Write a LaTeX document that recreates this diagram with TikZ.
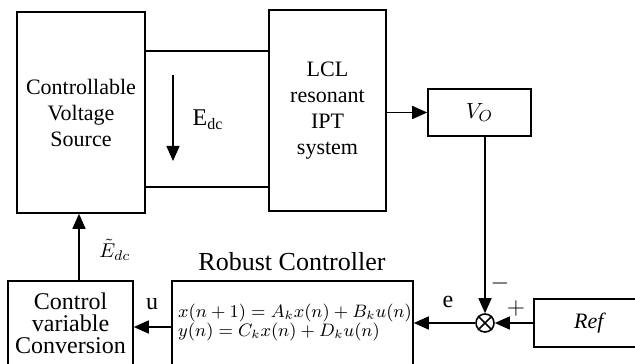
\documentclass[tikz,border=0pt]{standalone}
\usepackage{fontspec}
\setmainfont{Liberation Serif}
\usepackage{amsmath}
\usepackage{tikz}
\usetikzlibrary{arrows.meta, positioning, calc}
\tikzset{
  block/.style={rectangle, draw=black, line width=0.8pt, align=center,
    font=\fontsize{11}{13}\selectfont, inner sep=0pt},
  sumjunc/.style={circle, draw=black, minimum size=9pt, inner sep=0pt,
    line width=0.8pt},
  arrow/.style={-{Triangle[length=7.5pt,width=6.5pt]}, line width=0.8pt},
  line/.style={line width=0.8pt},
  lbl/.style={font=\fontsize{12}{14}\selectfont, inner sep=0pt}
}
\begin{document}
\begin{tikzpicture}[x=0.5pt, y=-0.5pt]
  \useasboundingbox (0,0) rectangle (635,363);
  \clip (0,0) rectangle (635,363);
  \node[block, minimum width=64pt, minimum height=100.5pt] (cvs) at (81,112.5)
    {Controllable\\Voltage\\Source};
  \node[block, minimum width=58.5pt, minimum height=100.5pt] (lcl) at (327.5,110.5)
    {LCL\\resonant\\IPT\\system};
  \node[block, minimum width=51.5pt, minimum height=23.5pt] (vo) at (479.5,112.5) {$V_O$};
  \node[sumjunc] (sum) at (485,323) {};
  \node[block, minimum width=56pt, minimum height=24pt] (ref) at (590,323) {\textit{Ref}};
  \node[block, minimum width=120.5pt, minimum height=43pt] (ctrl) at (292.5,324) {};
  \node[align=left, inner sep=0pt, font=\fontsize{9}{9.5}\selectfont] (eqs) at (295,322)
    {$x(n+1)=A_k x(n)+B_k u(n)$\\$y(n)=C_k x(n)+D_k u(n)$};
  \node[block, minimum width=62.5pt, minimum height=42pt,
    font=\fontsize{12}{11}\selectfont] (conv) at (70.5,323)
    {Control\\variable\\Conversion};
  \node[font=\fontsize{13}{15}\selectfont, inner sep=0pt] (title) at (292,262) {Robust Controller};

  \draw[line] (cvs.east |- 0,51) -- (lcl.west |- 0,51);
  \draw[line] (cvs.east |- 0,187) -- (lcl.west |- 0,187);
  \coordinate (edctop) at (173,75);
  \coordinate (edcbot) at (173,161);
  \draw[arrow] (edctop) -- (edcbot);
  \node[font=\fontsize{12}{14}\selectfont, inner sep=0pt] (edc) at (208,120) {E\textsubscript{dc}};

  \draw[arrow] (lcl.east |- vo.west) -- (vo.west);
  \draw[arrow] (vo.south -| sum.north) -- (sum.north);
  \draw[arrow] (ref.west) -- (sum.east);
  \draw[line] (sum.north east) -- (sum.south west);
  \draw[line] (sum.north west) -- (sum.south east);
  \draw[arrow] (sum.west) -- (ctrl.east |- sum.west);
  \draw[arrow] (ctrl.west |- 0,327) -- (conv.east |- 0,327);
  \draw[arrow] (conv.north -| 79,0) -- (cvs.south -| 79,0);

  \node[lbl] (minus) at (500,283) {$-$};
  \node[lbl] (plus) at (516,308) {$+$};
  \node[lbl] (elbl) at (448,302) {e};
  \node[lbl] (ulbl) at (152,304) {u};
  \node[inner sep=0pt, font=\fontsize{10}{12}\selectfont] (etilde) at (115,250) {$\tilde{E}_{dc}$};
\end{tikzpicture}
\end{document}
